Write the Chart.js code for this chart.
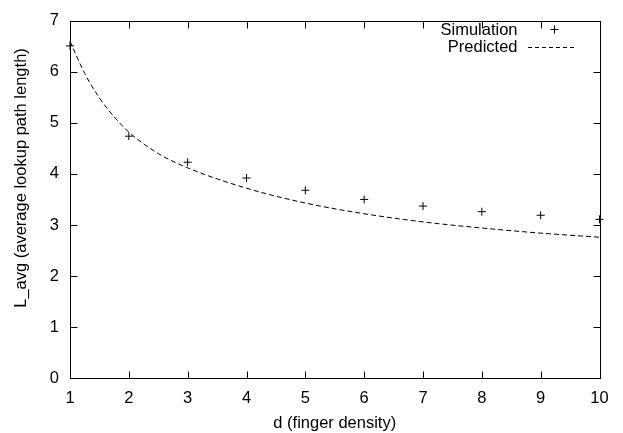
<!DOCTYPE html>
<html>
<head>
<meta charset="utf-8">
<title>L_avg vs finger density</title>
<script src="https://cdn.jsdelivr.net/npm/chart.js@4.4.1/dist/chart.umd.min.js"></script>
<style>
  html, body { margin: 0; padding: 0; background: #fff; }
  #wrap { width: 623px; height: 433px; }
</style>
</head>
<body>
<div id="wrap"><canvas id="chart" width="623" height="433"></canvas></div>
<script>
// ---------- Data ----------
const simD = [1, 2, 3, 4, 5, 6, 7, 8, 9, 10];
const simL = [6.51, 4.74, 4.23, 3.92, 3.68, 3.50, 3.37, 3.26, 3.19, 3.11];

const predD = [1, 1.25, 1.5, 1.75, 2, 2.5, 3, 4, 5, 6, 7, 8, 9, 10];
const predL = [6.60, 5.97, 5.49, 5.12, 4.82, 4.40, 4.12, 3.72, 3.43, 3.22, 3.06, 2.94, 2.84, 2.76];

const xTicks = [1, 2, 3, 4, 5, 6, 7, 8, 9, 10];
const yTicks = [0, 1, 2, 3, 4, 5, 6, 7];

const seriesNames = ['Simulation', 'Predicted'];
const xTitle = 'd (finger density)';
const yTitle = 'L_avg (average lookup path length)';

const FONT = '"Liberation Sans", Arial, Helvetica, sans-serif';
const FS = 16.5;
const INK = '#000';

// ---------- gnuplot-like frame: box, inward ticks, legend, y label ----------
const framePlugin = {
  id: 'frame',
  afterDraw(chart) {
    const ctx = chart.ctx;
    const a = chart.chartArea;
    const xs = chart.scales.x, ys = chart.scales.y;
    const L = Math.round(a.left) + 0.5, R = Math.round(a.right) + 0.5;
    const T = Math.round(a.top) + 0.5, B = Math.round(a.bottom) + 0.5;
    const tick = 7;

    ctx.save();
    ctx.strokeStyle = INK;
    ctx.lineWidth = 1;
    ctx.setLineDash([]);
    ctx.strokeRect(L, T, R - L, B - T);

    ctx.beginPath();
    xs.ticks.forEach((t, i) => {
      const px = Math.round(xs.getPixelForTick(i)) + 0.5;
      ctx.moveTo(px, B); ctx.lineTo(px, B - tick);
      ctx.moveTo(px, T); ctx.lineTo(px, T + tick);
    });
    ys.ticks.forEach((t, i) => {
      const py = Math.round(ys.getPixelForTick(i)) + 0.5;
      ctx.moveTo(L, py); ctx.lineTo(L + tick, py);
      ctx.moveTo(R, py); ctx.lineTo(R - tick, py);
    });
    ctx.stroke();

    // legend (text on the left, sample on the right, like gnuplot)
    ctx.font = FS + 'px ' + FONT;
    ctx.fillStyle = INK;
    ctx.textAlign = 'right';
    ctx.textBaseline = 'alphabetic';
    ctx.fillText(seriesNames[0], a.right - 82, 35);
    ctx.fillText(seriesNames[1], a.right - 82, 51.5);

    const mx = Math.round(a.right - 45.5) + 0.5, my = 29.5;
    ctx.beginPath();
    ctx.moveTo(mx - 4, my); ctx.lineTo(mx + 4, my);
    ctx.moveTo(mx, my - 4); ctx.lineTo(mx, my + 4);
    ctx.stroke();

    ctx.setLineDash([4, 3]);
    ctx.beginPath();
    ctx.moveTo(a.right - 71.5, 47.5);
    ctx.lineTo(a.right - 22.5, 47.5);
    ctx.stroke();
    ctx.setLineDash([]);

    // y axis label, rotated
    ctx.translate(21, 178);
    ctx.rotate(-Math.PI / 2);
    ctx.textAlign = 'center';
    ctx.textBaseline = 'middle';
    ctx.fillText(yTitle, 0, 0);
    ctx.restore();
  }
};

// ---------- Chart ----------
const ctx = document.getElementById('chart').getContext('2d');
new Chart(ctx, {
  type: 'scatter',
  data: {
    datasets: [
      {
        label: seriesNames[0],
        data: simD.map((d, i) => ({ x: d, y: simL[i] })),
        pointStyle: 'cross',
        pointRadius: 4,
        pointBorderWidth: 1,
        borderColor: INK,
        backgroundColor: INK,
        showLine: false
      },
      {
        label: seriesNames[1],
        data: predD.map((d, i) => ({ x: d, y: predL[i] })),
        showLine: true,
        borderColor: INK,
        borderWidth: 1,
        borderDash: [5, 3],
        pointRadius: 0,
        cubicInterpolationMode: 'monotone',
        fill: false
      }
    ]
  },
  options: {
    responsive: false,
    animation: false,
    clip: false,
    layout: { padding: { left: 0, right: 23.5, top: 13, bottom: 0 } },
    plugins: {
      legend: { display: false },
      tooltip: { enabled: false }
    },
    scales: {
      x: {
        type: 'linear',
        min: 1, max: 10,
        afterBuildTicks: s => { s.ticks = xTicks.map(v => ({ value: v })); },
        afterFit: s => { s.height = 55; },
        grid: { display: false, drawTicks: false },
        border: { display: false },
        ticks: { color: INK, font: { family: FONT, size: FS }, padding: 11, maxRotation: 0 },
        title: { display: true, text: xTitle, color: INK, font: { family: FONT, size: FS }, padding: { top: 0, bottom: 0 } }
      },
      y: {
        type: 'linear',
        min: 0, max: 7,
        afterBuildTicks: s => { s.ticks = yTicks.map(v => ({ value: v })); },
        afterFit: s => { s.width = 70; },
        grid: { display: false, drawTicks: false },
        border: { display: false },
        ticks: { color: INK, font: { family: FONT, size: FS }, padding: 11 }
      }
    }
  },
  plugins: [framePlugin]
});
</script>
</body>
</html>
